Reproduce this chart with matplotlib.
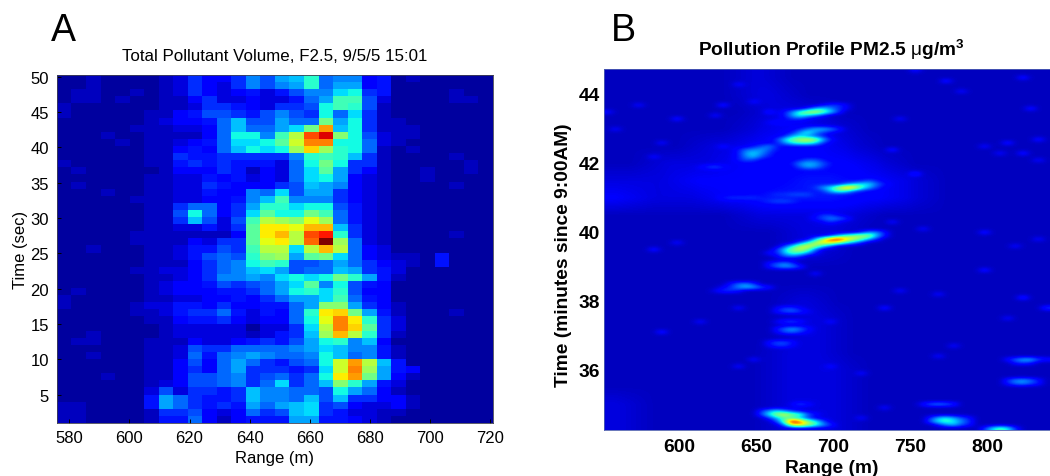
import matplotlib
matplotlib.use('Agg')
import matplotlib.pyplot as plt
import numpy as np

plt.rcParams['font.family'] = ['Liberation Sans', 'DejaVu Sans']
plt.rcParams['mathtext.fontset'] = 'custom'
plt.rcParams['mathtext.rm'] = 'Liberation Sans'
plt.rcParams['mathtext.bf'] = 'Liberation Sans:bold'

# panel A, one string per row, from t=50 down to t=2, 30 columns
# characters are levels in base 36 (0=navy ... z=dark red)
volume_rows = [
    "11211112 36446 97abe 89945 1211111",
    "11211112 36436 979ae 8aa45 1111111",
    "12211212 36434 53579 9cd65 1111211",
    "12212112 24633 43358 aff73 1111221",
    "21111112 23665 43667 dfe72 1111111",
    "21111122 45776 57976 d8c62 1111111",
    "11111123 4458b 77a88 had62 2111111",
    "11111222 3348b 88ach qbd62 2211111",
    "11121122 2248d d9fkt wid73 2211111",
    "11112122 3458c cdglr rdd83 2111111",
    "11111122 4548b dcdjo jed82 1211111",
    "11111122 65566 6669e feb62 1111211",
    "21111122 56565 5538d hd662 1111121",
    "12111112 44465 2438c ga642 1121121",
    "11111122 33545 3438c da432 1121111",
    "12111122 33654 4467b a9432 1111211",
    "11121122 33544 98c7a a6432 1111111",
    "11111222 33445 9bf99 96432 1111111",
    "11111122 68846 aeecd d7532 1111111",
    "11111122 7d846 cgddh f8532 1111111",
    "11111122 6b737 fkjim j8532 1111111",
    "11111122 33536 gnnmp pb632 1111111",
    "11111222 22224 gnpkt ve632 1111211",
    "11111222 24366 gmnks zj832 1111111",
    "11211122 35576 fkkck pk843 1111111",
    "11111122 35787 eijag hc843 2215111",
    "11111122 24689 dfe77 8a864 3215111",
    "11111223 34689 bca78 8ba65 3111111",
    "11111122 34699 a9cdc dhea5 2111111",
    "11111123 44576 78acg 9d754 1111111",
    "12111123 44455 68ade ce744 1111111",
    "21111122 33445 468aa cf854 1111111",
    "21111233 55464 4558a iia64 2111111",
    "11111223 56685 3548e noha5 2111211",
    "11111122 45564 3448d mrne6 3111111",
    "11111112 33333 1336c krog6 3111111",
    "11211112 33333 2356b jpke6 2111111",
    "12211122 24334 5657a de9b4 1111111",
    "11111122 37668 8889a cb995 2111111",
    "11211122 38589 a9889 db895 2111111",
    "11111122 4748a 86578 dlqkb 5111111",
    "11111122 4648a 66656 clrja 5411111",
    "11121122 47789 67868 dnqha 4211111",
    "11111123 47789 68c68 biea5 3111111",
    "11111137 36656 b9988 7da84 2111111",
    "1111115a 86556 b998b 7b664 4211111",
    "2211115a 86565 a8abc 67433 4211111",
    "22111126 67434 867bc 65332 2111111",
    "22111125 58424 555aa 55432 1111111",
]
volume_rows = [r.replace(' ', '') for r in volume_rows]
volume_time = [50 - i for i in range(len(volume_rows))]

tick_range_a = [580, 600, 620, 640, 660, 680, 700, 720]
tick_time_a = [5, 10, 15, 20, 25, 30, 35, 40, 45, 50]

# panel B, low level haze: 10 m wide, 0.5 min tall cells, top row first
haze_rows = [
    "22222222233222222222222222222",
    "22222222233322222222222222222",
    "22222222223333222222222222222",
    "22222222233444332222222222222",
    "22222233344444433222222222222",
    "22233333444444444332222222222",
    "33333444444455554443322222222",
    "44333334445555554443322222222",
    "22222222233333333222222222222",
    "22222222222233332222222222222",
    "22222222222233322222222222222",
    "22222222222222222222222222222",
    "22222222222222222222222222222",
    "22222222222233222222222222222",
    "22222222222233322222222222222",
    "22222222222233322222222222222",
    "22222222222333322222222222222",
    "22222222222333332222222222222",
    "22222222222333332222222222222",
    "33222222222333332222222222222",
    "33222222222333332222222222222",
]

# panel B, streaks: row time (min), first range (m), levels every 5 m
streak_time = [
    43.7, 43.6, 43.5, 43.4, 43.3, 43.2,
    43.0, 42.9, 42.8, 42.7, 42.6, 42.5, 42.4, 42.3, 42.2, 42.1,
    42.05, 41.95, 41.85, 41.85,
    41.5, 41.4, 41.3, 41.2, 41.1, 41.0, 40.9,
    40.45, 40.35, 40.25,
    39.95, 39.85, 39.75, 39.65, 39.55, 39.45, 39.35, 39.25,
    39.05, 38.95, 38.5, 38.4, 38.3,
    37.8, 37.7, 37.4, 37.2, 37.1, 36.75, 36.65, 35.0,
    34.75, 34.65, 34.55, 34.45, 34.35,
    36.25, 36.15, 35.7, 35.6, 35.0, 34.6, 34.5, 34.4, 34.3,
]
streak_start = [
    695, 685, 670, 670, 670, 660,
    680, 675, 670, 665, 665, 650, 640, 640, 640, 640,
    680, 675, 680, 615,
    720, 705, 690, 695, 660, 630, 655,
    690, 690, 695,
    720, 700, 690, 680, 670, 665, 665, 665,
    660, 660, 635, 630, 625,
    665, 665, 665, 665, 665, 660, 660, 675,
    655, 655, 660, 665, 670,
    815, 820, 815, 815, 760, 765, 765, 770, 800,
]
streak_levels = [
    "4664", "5ac964", "59fkmhc6", "5ae b85".replace(' ', ''), "4664", "4553",
    "58bb96", "5ae964", "5ac975", "6chkmjb5", "59dffc6", "5795", "589a75", "5ac96", "59b75", "5764",
    "5775", "59ba75", "7a96", "4675",
    "575", "58bdc85", "6adkrpfa6", "6bfd75", "566777", "5666655", "56776",
    "4664", "57986", "464",
    "5995", "5afjkjb5", "akuxqlga5", "7dkonjd95", "6cjmjc7", "6cilh8", "5bfea5", "4786",
    "5796", "58a96", "5896", "469ba75", "4665",
    "4664", "57864", "4675", "58a85", "47864", "5775", "4664", "475",
    "6ad964", "7djmig85", "6bfda6", "7hzsje7", "9mpkfa6",
    "58bb75", "565", "69a85", "58975", "58986", "6bda75", "8dfd96", "59b75", "6cgd6",
]

# panel B, single small specks: range, time, level
speck_range = [
    600, 650, 631, 573, 555, 560, 590, 585, 630, 622, 640, 660, 745, 752, 775, 782, 821, 826, 832,
    815, 740, 755, 800, 810, 822, 835, 740, 756, 800, 820, 832, 584, 600, 660, 690, 745, 770, 800,
    590, 612, 640, 700, 735, 770, 780, 825, 838, 815, 650, 700, 720, 735, 720, 640,
]
speck_time = [
    43.25, 43.8, 43.68, 43.62, 43.45, 43.0, 42.6, 42.2, 42.45, 43.35, 44.3, 43.45, 43.25, 44.65, 44.35,
    44.1, 44.45, 43.55, 42.7, 42.55, 42.35, 41.7, 42.5, 42.3, 42.3, 42.05, 40.25, 40.05, 39.95, 39.6,
    39.75, 39.45, 39.72, 39.35, 38.8, 38.3, 38.2, 38.9, 37.05, 37.4, 37.8, 37.4, 37.75, 36.4, 36.7,
    38.05, 37.75, 37.5, 36.3, 36.1, 35.85, 34.85, 34.55, 36.05,
]
speck_level = [
    6, 5, 6, 5, 5, 5, 5, 5, 5, 5, 5, 6, 5, 5, 6, 5, 6, 6, 6, 6, 6, 7, 5, 5, 6, 5, 5, 5, 6, 5, 5,
    6, 5, 5, 5, 5, 5, 6, 6, 5, 5, 5, 6, 5, 5, 7, 7, 5, 5, 5, 5, 5, 5, 5,
]

tick_range_b = [600, 650, 700, 750, 800]
tick_time_b = [36, 38, 40, 42, 44]


def read_levels(text):
    return [int(c, 36) for c in text]


def make_volume():
    return np.array([read_levels(r) for r in volume_rows], dtype=float)


def soften(grid, n=5):
    # box average so the coarse haze cells do not show up as blocks
    kernel = np.ones(n) / n
    pad = np.pad(grid, n, mode='edge')
    pad = np.apply_along_axis(np.convolve, 0, pad, kernel, mode='same')
    pad = np.apply_along_axis(np.convolve, 1, pad, kernel, mode='same')
    return pad[n:-n, n:-n]


def make_profile(x0, x1, y0, y1):
    # cells 5 m wide, about 0.1 min tall
    haze = np.array([read_levels(r) for r in haze_rows], dtype=float)
    grid = soften(np.repeat(np.repeat(haze, 5, axis=0), 2, axis=1))
    dx = (x1 - x0) / grid.shape[1]
    dy = (y1 - y0) / grid.shape[0]

    for t, r, text in zip(streak_time, streak_start, streak_levels):
        row = int((y1 - t) / dy)
        col = int((r - x0) / dx)
        for k, v in enumerate(read_levels(text)):
            if 0 <= row < grid.shape[0] and 0 <= col + k < grid.shape[1]:
                grid[row, col + k] = max(grid[row, col + k], v)

    for r, t, v in zip(speck_range, speck_time, speck_level):
        row = int((y1 - t) / dy)
        col = int((r - x0) / dx)
        if 0 <= row < grid.shape[0] and 0 <= col < grid.shape[1]:
            grid[row, col] = max(grid[row, col], v)
    return grid


W, H = 1050, 477
fig = plt.figure(figsize=(W / 100, H / 100), dpi=100)


def px_axes(left, top, right, bottom):
    return fig.add_axes([left / W, 1 - bottom / H, (right - left) / W, (bottom - top) / H])


# panel A
ax = px_axes(57.3, 76.3, 492.7, 424)
ax.imshow(make_volume(), cmap='jet', vmin=0, vmax=35, aspect='auto',
          extent=(576, 720.9, volume_time[-1] - 1, volume_time[0] + 0.2),
          interpolation='nearest')
ax.set_xticks(tick_range_a)
ax.set_yticks(tick_time_a)
ax.tick_params(labelsize=12, length=3, width=0.7, direction='in', pad=5)
ax.tick_params(axis='y', pad=6)
ax.set_xlabel('Range (m)', fontsize=12, labelpad=4)
ax.set_ylabel('Time (sec)', fontsize=12, labelpad=2)
ax.set_title('Total Pollutant Volume, F2.5, 9/5/5 15:01', fontsize=12.2, pad=11)
for s in ax.spines.values():
    s.set_linewidth(0.6)
    s.set_color('#404050')

# panel B
x0, x1, y0, y1 = 551.4, 840.4, 34.24, 44.71
ax2 = px_axes(604.3, 69.7, 1050, 430.7)
ax2.imshow(make_profile(x0, x1, y0, y1), cmap='jet', vmin=0, vmax=35, aspect='auto',
           extent=(x0, x1, y0, y1), interpolation='bicubic', interpolation_stage='data')
ax2.set_xticks(tick_range_b)
ax2.set_yticks(tick_time_b)
ax2.tick_params(length=0, labelsize=13.8, pad=6)
ax2.tick_params(axis='y', pad=3)
for lab in ax2.get_xticklabels() + ax2.get_yticklabels():
    lab.set_fontweight('bold')
ax2.set_xlabel('Range (m)', fontsize=13.8, fontweight='bold', labelpad=3, x=0.51)
ax2.set_ylabel('Time (minutes since 9:00AM)', fontsize=13.8, fontweight='bold', labelpad=5, y=0.487)
ax2.set_title(r'Pollution Profile PM2.5 $\mathrm{\mu}\mathbf{g/m^3}$', fontsize=13.8, fontweight='bold', pad=10, x=0.51)
for s in ax2.spines.values():
    s.set_linewidth(0.6)
    s.set_color('#5060b0')

fig.text(51 / W, 1 - 41 / H, 'A', fontsize=27)
fig.text(611 / W, 1 - 41 / H, 'B', fontsize=27)

fig.savefig('out.png', dpi=100)
